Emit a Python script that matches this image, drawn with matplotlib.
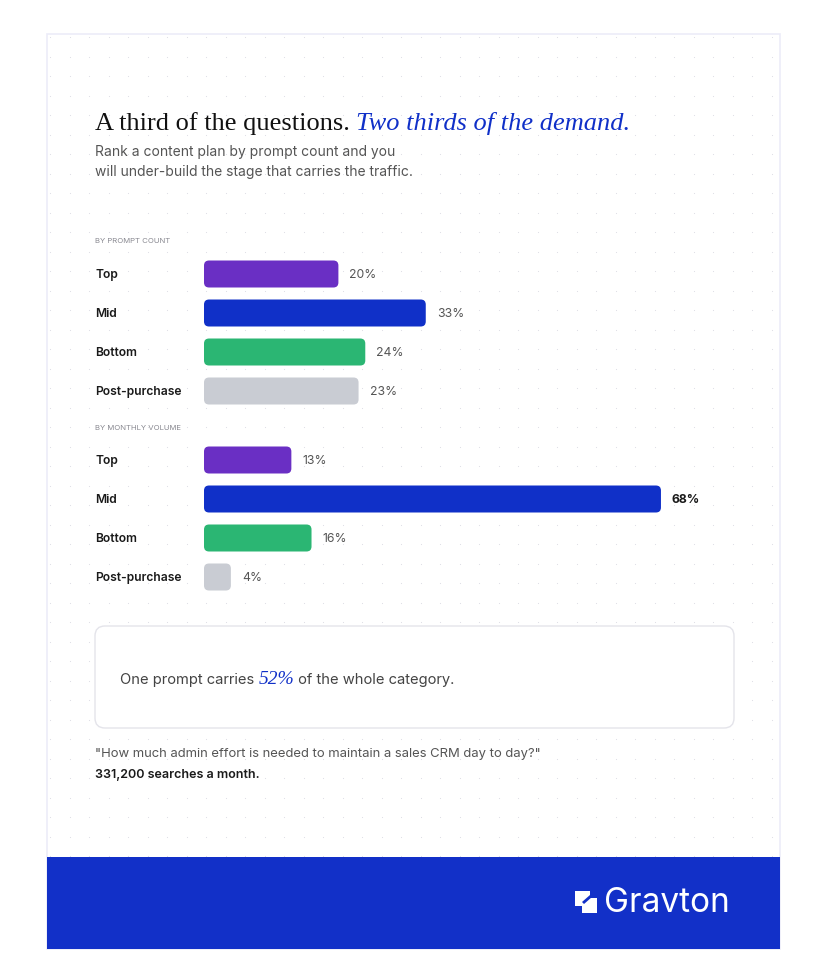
import numpy as np
import matplotlib.pyplot as plt
import matplotlib.transforms as mtransforms
from matplotlib.patches import FancyBboxPatch, Rectangle, Polygon

# data
stages = ["Top", "Mid", "Bottom", "Post-purchase"]
by_prompt_count = [20, 33, 24, 23]
by_monthly_volume = [13, 68, 16, 4]
stage_colors = ["#6a2fc4", "#1030c8", "#2bb673", "#c9ccd3"]
group_titles = ["BY PROMPT COUNT", "BY MONTHLY VOLUME"]

W, H = 819, 962
fig = plt.figure(figsize=(W / 100, H / 100), dpi=100)
fig.patch.set_facecolor("white")

# background axes in pixel coordinates
bg = fig.add_axes([0, 0, 1, 1])
bg.set_xlim(0, W)
bg.set_ylim(H, 0)
bg.axis("off")

card_l, card_r, card_t, card_b = 47, 780, 35, 950
bg.add_patch(Rectangle((card_l, card_t), card_r - card_l, card_b - card_t,
                       facecolor="white", edgecolor="#ececf8", lw=1.2, zorder=0))
# dot grid
gx, gy = np.meshgrid(np.arange(card_l + 3, card_r, 19.5), np.arange(card_t + 3, 858, 19.5))
bg.scatter(gx.ravel(), gy.ravel(), s=0.6, color="#dcdce4", lw=0, zorder=1)

renderer = fig.canvas.get_renderer()


def run_text(x, y, parts):
    # draw consecutive text pieces on one baseline
    for s, kw in parts:
        t = bg.text(x, y, s, va="baseline", ha="left", zorder=5, **kw)
        x += t.get_window_extent(renderer).width
    return x


serif = "Liberation Serif"
sans = "Inter"

run_text(95, 130, [
    ("A third of the questions. ", dict(family=serif, fontsize=19, color="#111111")),
    ("Two thirds of the demand.", dict(family=serif, fontsize=19, color="#1030c8", style="italic")),
])
bg.text(95, 152, "Rank a content plan by prompt count and you", family=sans, fontsize=10,
        color="#555555", va="center", zorder=5)
bg.text(95, 172, "will under-build the stage that carries the traffic.", family=sans, fontsize=10,
        color="#555555", va="center", zorder=5)

# bar groups
bar_x0 = 204
px_per_pct = 6.72
row_h = 39
groups = [(by_prompt_count, 255.5, 241), (by_monthly_volume, 441.5, 428)]
for gi, (vals, top_px, title_y) in enumerate(groups):
    bg.text(95, title_y, group_titles[gi], family=sans, fontsize=5.6, color="#8a8a92",
            va="center", zorder=5)
    xmax = 80
    ax = fig.add_axes([bar_x0 / W, 1 - (top_px + 4 * row_h) / H,
                       xmax * px_per_pct / W, 4 * row_h / H])
    ax.set_xlim(0, xmax)
    ax.set_ylim(3.5, -0.5)
    ax.axis("off")
    ax.patch.set_alpha(0)
    bars = ax.barh(range(len(stages)), vals, height=27 / row_h, color=stage_colors)
    # swap plain bars for rounded ones
    aspect = px_per_pct / row_h
    for b, c in zip(bars, stage_colors):
        b.set_visible(False)
        ax.add_patch(FancyBboxPatch((b.get_x(), b.get_y()), b.get_width(), b.get_height(),
                                    boxstyle="round,pad=0,rounding_size=0.75",
                                    mutation_aspect=aspect, facecolor=c, edgecolor="none"))
    lab_tr = mtransforms.blended_transform_factory(bg.transData, ax.transData)
    vmax = max(vals)
    for i, (s, v) in enumerate(zip(stages, vals)):
        ax.text(95, i, s, transform=lab_tr, family=sans, fontsize=8.7, fontweight="semibold",
                color="#1a1a1a", va="center", ha="left")
        strong = gi == 1 and v == vmax
        ax.annotate(f"{v}%", (v, i), xytext=(11, 0), textcoords="offset pixels",
                    va="center", ha="left", family=sans, fontsize=8.8,
                    fontweight="bold" if strong else "normal",
                    color="#1a1a1a" if strong else "#555555")

# callout box
bg.add_patch(FancyBboxPatch((95, 627), 639, 102, boxstyle="round,pad=0,rounding_size=10",
                            facecolor="white", edgecolor="#e4e4ea", lw=1, zorder=3))
run_text(120, 684, [
    ("One prompt carries ", dict(family=sans, fontsize=10.6, color="#444444")),
    ("52%", dict(family=serif, fontsize=14, color="#1030c8", style="italic")),
    (" of the whole category.", dict(family=sans, fontsize=10.6, color="#444444")),
])
bg.text(95, 754, "\"How much admin effort is needed to maintain a sales CRM day to day?\"",
        family=sans, fontsize=9.4, color="#555555", va="center", zorder=5)
bg.text(95, 775, "331,200 searches a month.", family=sans, fontsize=9, fontweight="semibold",
        color="#1a1a1a", va="center", zorder=5)

# footer
bg.add_patch(Rectangle((card_l, 858), card_r - card_l, card_b - 858, facecolor="#1230c8",
                       edgecolor="none", zorder=4))
bg.add_patch(Polygon([(575, 892), (590, 892), (590, 899), (597, 899), (597, 914),
                      (582, 914), (582, 907), (575, 907)], closed=True,
                     facecolor="white", edgecolor="none", zorder=5))
bg.add_patch(Polygon([(582, 903), (590, 896), (592, 898), (584, 905)], closed=True,
                     facecolor="#1230c8", edgecolor="none", zorder=6))
bg.text(604, 903, "Gravton", family=sans, fontsize=24, color="white", va="center",
        ha="left", zorder=5)

fig.savefig("out.png", dpi=100)
